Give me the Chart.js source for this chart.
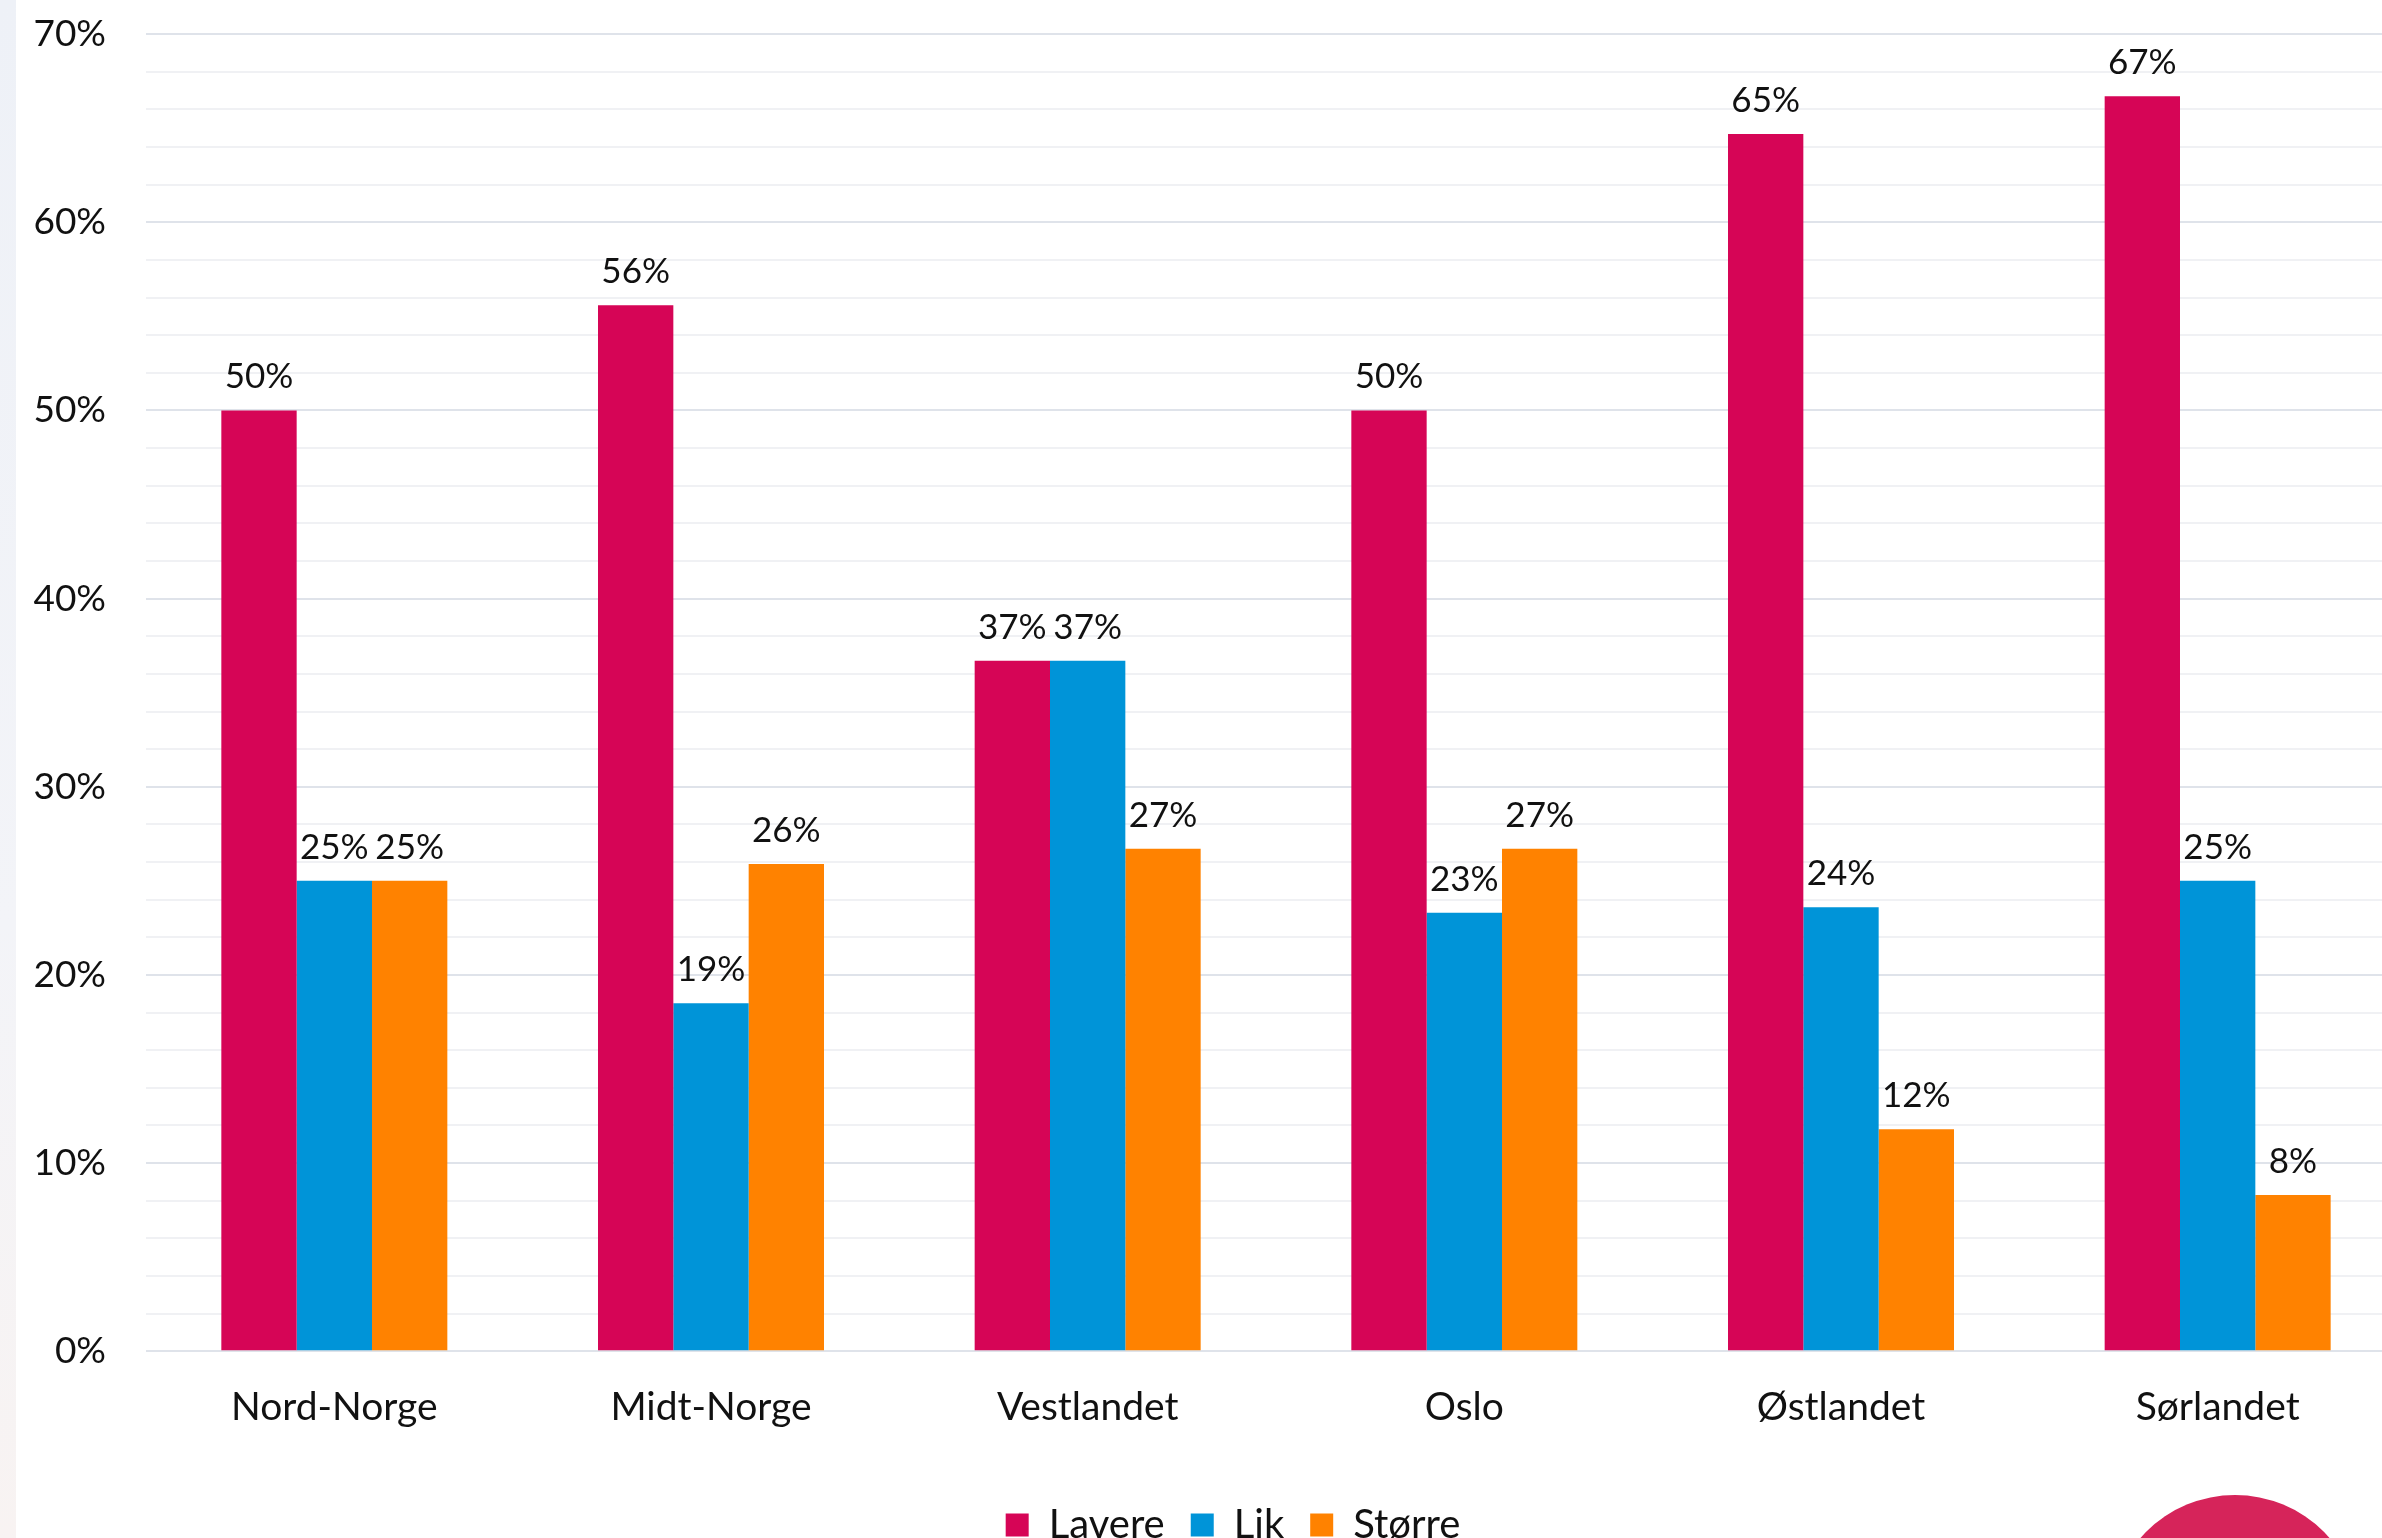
<!DOCTYPE html>
<html>
<head>
<meta charset="utf-8">
<script src="https://cdn.jsdelivr.net/npm/chart.js@4"></script>
<style>
  html, body { margin: 0; padding: 0; background: #fff; overflow: hidden; }
  #side { position: absolute; left: 0; top: 0; width: 16px; height: 1538px; background: linear-gradient(#eef1f7, #f3f4f8 60%, #f8f3f2); }
  #wrap { position: absolute; left: 0; top: -28px; width: 2420px; height: 1583px; }
</style>
</head>
<body>
<div id="wrap"><canvas id="chart"></canvas></div>
<div id="side"></div>
<script>
// Kategorier og verdier (prosent)
const categories = ['Nord-Norge', 'Midt-Norge', 'Vestlandet', 'Oslo', 'Østlandet', 'Sørlandet'];
const seriesNames = ['Lavere', 'Lik', 'Større'];
const lavere = [50, 55.6, 36.7, 50, 64.7, 66.7];
const lik = [25, 18.5, 36.7, 23.3, 23.6, 25];
const storre = [25, 25.9, 26.7, 26.7, 11.8, 8.3];
const yTicks = [0, 10, 20, 30, 40, 50, 60, 70];

const colors = ['#d60556', '#0094d8', '#ff8200'];
const fontFamily = 'Lato, "Open Sans", sans-serif';

// Verdietiketter over søylene
const valueLabels = {
    id: 'valueLabels',
    afterDatasetsDraw(chart) {
        const ctx = chart.ctx;
        ctx.save();
        ctx.font = '35px ' + fontFamily;
        ctx.fillStyle = '#111';
        ctx.textAlign = 'center';
        ctx.textBaseline = 'alphabetic';
        chart.data.datasets.forEach((ds, i) => {
            chart.getDatasetMeta(i).data.forEach((bar, j) => {
                ctx.fillText(Math.round(ds.data[j]) + '%', bar.x, bar.y - 22);
            });
        });
        ctx.restore();
    }
};

// Flytt legenden litt mot høyre, som i originalen
const legendShift = {
    id: 'legendShift',
    afterLayout(chart) {
        if (chart.legend) chart.legend.left += 60;
    }
};

// Rosa sirkel nede til høyre (logo-del), i sidekoordinater
const cornerCircle = {
    id: 'cornerCircle',
    afterDraw(chart) {
        const ctx = chart.ctx;
        ctx.save();
        ctx.fillStyle = '#d6245a';
        ctx.beginPath();
        ctx.arc(2235, 1621 + 28, 126, 0, Math.PI * 2);
        ctx.fill();
        ctx.restore();
    }
};

const data = {
    labels: categories,
    datasets: [
        { label: seriesNames[0], data: lavere, backgroundColor: colors[0] },
        { label: seriesNames[1], data: lik, backgroundColor: colors[1] },
        { label: seriesNames[2], data: storre, backgroundColor: colors[2] }
    ]
};

const config = {
    type: 'bar',
    data: data,
    options: {
        responsive: true,
        maintainAspectRatio: false,
        animation: false,
        layout: { padding: { left: 0, right: 14, top: 0, bottom: 0 } },
        datasets: {
            bar: { barPercentage: 1, categoryPercentage: 0.6, borderWidth: 0 }
        },
        scales: {
            x: {
                grid: { display: false, drawTicks: false },
                border: { display: false },
                afterFit: scale => { scale.height += 15; },
                ticks: { color: '#111', font: { family: fontFamily, size: 39 }, padding: 33 }
            },
            y: {
                min: 0,
                max: 70,
                border: { display: false },
                afterFit: scale => { scale.width = 146; },
                grid: {
                    drawTicks: false,
                    lineWidth: 2,
                    color: c => (c.tick && c.tick.value % 10 === 0) ? '#dfe3ea' : '#f0f1f4'
                },
                ticks: {
                    stepSize: 2,
                    autoSkip: false,
                    padding: 40,
                    color: '#111',
                    font: { family: fontFamily, size: 37 },
                    callback: v => yTicks.includes(v) ? v + '%' : ''
                }
            }
        },
        plugins: {
            legend: {
                position: 'bottom',
                labels: {
                    color: '#111',
                    font: { family: fontFamily, size: 40 },
                    boxWidth: 23,
                    boxHeight: 23,
                    padding: 26
                }
            },
            tooltip: { enabled: false }
        }
    },
    plugins: [valueLabels, legendShift, cornerCircle]
};

const ctx = document.getElementById('chart').getContext('2d');
const myChart = new Chart(ctx, config);
</script>
</body>
</html>
